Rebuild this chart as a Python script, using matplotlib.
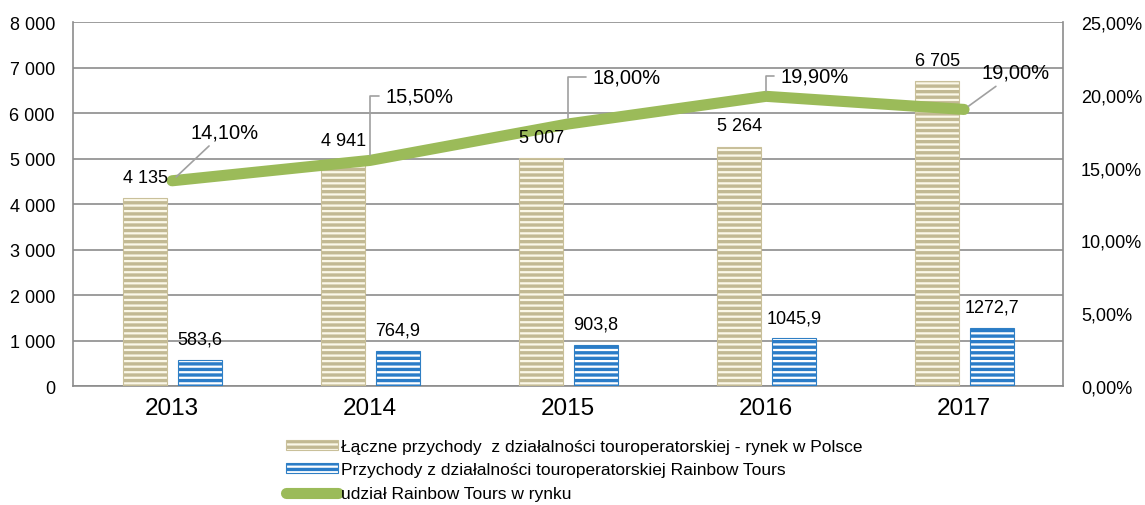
import matplotlib.pyplot as plt
import matplotlib as mpl
import numpy as np
from matplotlib.ticker import FuncFormatter

years = ["2013", "2014", "2015", "2016", "2017"]
rynek = [4135, 4941, 5007, 5264, 6705]
rainbow = [583.6, 764.9, 903.8, 1045.9, 1272.7]
udzial = [14.10, 15.50, 18.00, 19.90, 19.00]

rynek_lbl = ["4 135", "4 941", "5 007", "5 264", "6 705"]
rainbow_lbl = ["583,6", "764,9", "903,8", "1045,9", "1272,7"]
udzial_lbl = ["14,10%", "15,50%", "18,00%", "19,90%", "19,00%"]

plt.rcParams['font.family'] = ['Liberation Sans', 'DejaVu Sans']
mpl.rcParams['hatch.linewidth'] = 2.4

fig = plt.figure(figsize=(11.45, 5.06), dpi=100)
ax = fig.add_axes([0.0638, 0.235, 0.8646, 0.7194])
ax2 = ax.twinx()

x = np.arange(len(years))
w = 0.222

b1 = ax.bar(x - 0.136, rynek, w, color='#fbf8e8', edgecolor='#c9c09a', hatch='---',
            linewidth=0.8, zorder=3, label='Łączne przychody  z działalności touroperatorskiej - rynek w Polsce')
b2 = ax.bar(x + 0.141, rainbow, w, color='white', edgecolor='#2f7fc4', hatch='---',
            linewidth=0.8, zorder=3, label='Przychody z działalności touroperatorskiej Rainbow Tours')
for b in b1:
    b._hatch_color = mpl.colors.to_rgba('#c2b993')
for b in b2:
    b._hatch_color = mpl.colors.to_rgba('#2a7cc8')

ax.set_ylim(0, 8000)
ax.set_yticks(range(0, 8001, 1000))
ax.yaxis.set_major_formatter(FuncFormatter(lambda v, p: f"{int(v):,}".replace(",", " ")))
ax.set_xlim(-0.5, 4.5)
ax.set_xticks(x)
ax.set_xticklabels(years, fontsize=17.5)
ax.tick_params(axis='y', labelsize=13, length=0, pad=13)
ax.tick_params(axis='x', length=0, pad=8)
ax.grid(axis='y', color='#8c8c8c', linewidth=1.2, zorder=0)
ax.set_axisbelow(True)
ax.spines['top'].set_visible(False)
for s in ['bottom', 'left', 'right']:
    ax.spines[s].set_color('#8c8c8c')
    ax.spines[s].set_linewidth(1.2)

ln, = ax2.plot(x, udzial, color='#9bbb59', linewidth=8, solid_capstyle='round',
               solid_joinstyle='round', zorder=4, label='udział Rainbow Tours w rynku')
ax2.set_ylim(0, 25)
ax2.set_yticks(range(0, 26, 5))
ax2.yaxis.set_major_formatter(FuncFormatter(lambda v, p: f"{v:.2f}%".replace(".", ",")))
ax2.tick_params(axis='y', labelsize=13, length=0, pad=13)
for s in ['top', 'right', 'left', 'bottom']:
    ax2.spines[s].set_visible(False)

# bar value labels drawn on top axes so the line does not hide them
for i in range(len(years)):
    ax2.text(x[i] - 0.136, rynek[i] + 270, rynek_lbl[i], ha='center', va='bottom', fontsize=13,
             transform=ax.transData, zorder=5)
    ax2.text(x[i] + 0.141, rainbow[i] + 270, rainbow_lbl[i], ha='center', va='bottom', fontsize=13,
             transform=ax.transData, zorder=5)

# label offsets in pixels, and leader shape
offsets = [(18, 49), (15, 64), (24, 47), (14, 20), (17, 37)]
conn = ['arc3', 'angle,angleA=0,angleB=90,rad=0', 'angle,angleA=0,angleB=90,rad=0',
        'angle,angleA=0,angleB=90,rad=0', 'arc3']
for i in range(len(years)):
    ax2.annotate(udzial_lbl[i], xy=(x[i], udzial[i]), xytext=offsets[i], textcoords='offset pixels',
                 ha='left', va='center', fontsize=14.5, zorder=5,
                 arrowprops=dict(arrowstyle='-', color='#a0a0a0', lw=1.2, shrinkA=2, shrinkB=4,
                                 connectionstyle=conn[i]))

handles = [b1, b2, ln]
fig.legend(handles, [h.get_label() for h in handles], loc='upper left',
           bbox_to_anchor=(0.242, 0.148), frameon=False, fontsize=12.5,
           handlelength=3.0, handleheight=0.5, handletextpad=0.2, labelspacing=0.5, borderpad=0)

fig.savefig("out.png", dpi=100)
